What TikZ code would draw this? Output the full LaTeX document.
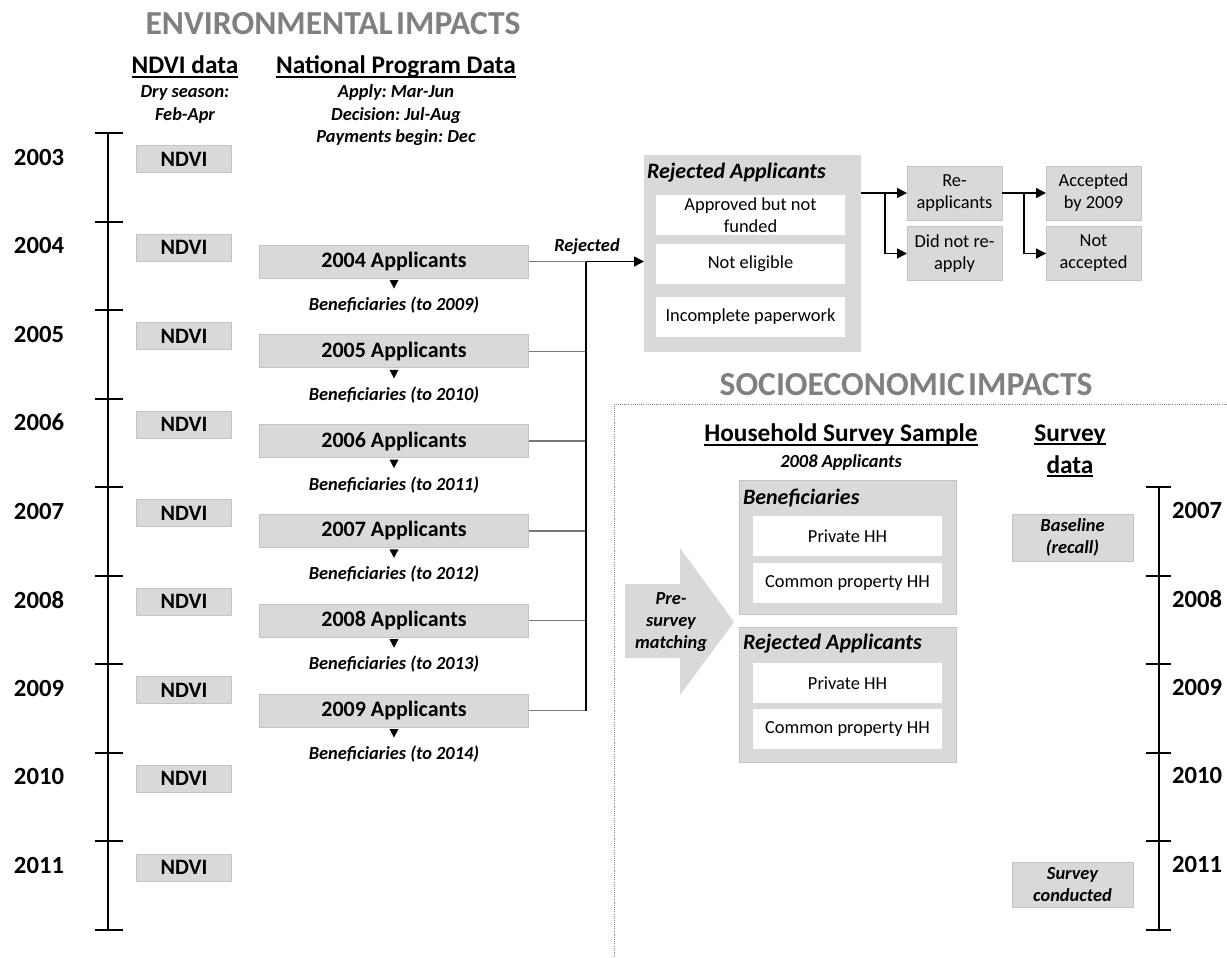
\documentclass[tikz,border=0pt]{standalone}
\usepackage{fontspec}
\setmainfont{Carlito}
\usetikzlibrary{arrows.meta,calc}
\frenchspacing
\definecolor{boxgray}{RGB}{217,217,217}
\definecolor{boxedge}{RGB}{196,196,196}
\definecolor{titlegray}{RGB}{128,128,128}
\definecolor{linegray}{RGB}{120,120,120}
\newcommand\hul[1]{\setbox0=\hbox{#1}\rlap{\rule[-0.15em]{\wd0}{0.075em}}\box0}
\newcommand\fTitle{\fontsize{25.2}{29}\selectfont\bfseries}
\newcommand\fHead{\fontsize{19}{24}\selectfont\bfseries}
\newcommand\fYear{\fontsize{18.5}{22}\selectfont\bfseries}
\newcommand\fBox{\fontsize{16.5}{20}\selectfont\bfseries}
\newcommand\fSub{\fontsize{13.8}{16.9}\selectfont\bfseries\itshape}
\newcommand\fReg{\fontsize{13.8}{16.5}\selectfont}
\begin{document}
\begin{tikzpicture}[x=0.75pt,y=-0.75pt,
  every node/.style={inner sep=0pt,outer sep=0pt},
  gbox/.style={fill=boxgray,draw=boxedge,line width=0.5pt},
  wbox/.style={fill=white},
  title/.style={font=\fTitle,text=titlegray},
  head/.style={font=\fHead,align=center},
  year/.style={font=\fYear},
  ndvi/.style={gbox,font=\fBox,minimum width=71.25pt,minimum height=20.25pt},
  appbox/.style={gbox,font=\fBox,minimum width=201.75pt,minimum height=24.75pt},
  sub/.style={font=\fSub,align=center},
  reg/.style={font=\fReg,align=center},
  inner/.style={wbox,font=\fReg,align=center,minimum width=141.75pt,minimum height=30pt},
  small/.style={gbox,font=\fReg,align=center,minimum width=71.25pt,minimum height=40.5pt},
  tline/.style={line width=1.5pt,black},
  gline/.style={line width=1pt,linegray},
  bline/.style={line width=1pt,black},
  arr/.style={line width=1pt,black,-{Triangle[length=7.5pt,width=7.5pt]}}
]
\useasboundingbox (0,0) rectangle (1227,957);

% ---------- titles and headers ----------
\node[title] (envt) at (333,24) {ENVIRONMENTAL\hspace{0.1em}IMPACTS};
\node[head] (ndvih) at (185,67) {\hul{NDVI data}};
\node[head] (nath) at (396,67) {\hul{National Program Data}};
\node[sub] (drys) at (185,104.5) {Dry season:\\Feb-Apr};
\node[sub] (sched) at (396,115.5) {Apply: Mar-Jun\\Decision: Jul-Aug\\Payments begin: Dec};

% ---------- left timeline ----------
\draw[tline] (108,133) -- (108,930);
\foreach \k in {0,...,9}{
  \pgfmathsetmacro\ty{133+88.55*\k}
  \draw[tline] (95,\ty) -- (123,\ty);
}
\foreach \k in {0,...,8}{
  \pgfmathsetmacro\ty{133+88.55*\k}
  \pgfmathtruncatemacro\yr{2003+\k}
  \node[year] (ly\k) at (39,\ty+24) {\yr};
  \node[ndvi] (nd\k) at (184,\ty+26) {NDVI};
}

% ---------- applicants ----------
\foreach \i in {0,...,5}{
  \pgfmathsetmacro\yy{261.5+89.8*\i}
  \pgfmathtruncatemacro\yr{2004+\i}
  \pgfmathtruncatemacro\yb{2009+\i}
  \node[appbox] (a\i) at (394,\yy) {\yr{} Applicants};
  \fill ($(a\i.south)+(-4.5,2)$) -- ++(9,0) -- ++(-4.5,8.5) -- cycle;
  \node[sub] (b\i) at (394,\yy+43.5) {Beneficiaries (to \yb)};
}

% ---------- rejected applicants box ----------
\node[fill=boxgray,minimum width=162.75pt,minimum height=147.75pt] (rej) at (752.5,253.5) {};
\node[font=\fontsize{16.5}{20}\selectfont\bfseries\itshape,anchor=west] (rejt) at (647,173) {Rejected Applicants};
\node[inner] (appr) at (750.5,215) {Approved but not\\funded};
\node[inner] (nelig) at (750.5,264) {Not eligible};
\node[inner] (incpl) at (750.5,317) {Incomplete paperwork};

\coordinate (bus) at (586,0);
\draw[gline] (a0.east) -- (a0.east -| bus);
\foreach \i in {1,...,5}{
  \draw[gline] (a\i.east) -- (a\i.east -| bus);
}
\draw[bline] (a0.east -| bus) -- (a5.east -| bus);
\draw[arr] (a0.east -| bus) -- (rej.west |- a0.east);
\node[sub] (rejlab) at (587,247) {Rejected};

% ---------- re-applicants ----------
\node[small] (reap) at (954.5,193) {Re-\\applicants};
\node[small] (dnr) at (954.5,253.5) {Did not re-\\apply};
\node[small] (acc) at (1093.5,193) {Accepted\\by 2009};
\node[small] (nacc) at (1093.5,253.5) {Not\\accepted};
\draw[bline] (rej.east |- reap) -- ++(24,0) coordinate (br1);
\draw[arr] (br1) -- (reap);
\draw[arr] (br1) |- (dnr);
\draw[bline] (reap.east) -- ++(22,0) coordinate (br2);
\draw[arr] (br2) -- (acc);
\draw[arr] (br2) |- (nacc);

% ---------- socioeconomic ----------
\node[title] (soct) at (906,385) {SOCIOECONOMIC\hspace{0.1em}IMPACTS};
\draw[densely dotted,line width=0.6pt,gray] (614,957) -- (614,404) -- (1227,404);
\node[head] (hhs) at (841,435) {\hul{Household Survey Sample}};
\node[sub] (a08) at (841,462) {2008 Applicants};

\node[gbox,minimum width=162.75pt,minimum height=100.5pt] (benb) at (847.5,547) {};
\node[font=\fontsize{16.5}{20}\selectfont\bfseries\itshape,anchor=west] (bent) at (743,498) {Beneficiaries};
\node[inner] (bpriv) at (847.5,536) {Private HH};
\node[inner] (bcomm) at (847.5,583) {Common property HH};

\node[gbox,minimum width=162.75pt,minimum height=101.25pt] (rjb) at (847.5,694.5) {};
\node[font=\fontsize{16.5}{20}\selectfont\bfseries\itshape,anchor=west] (rjt) at (743,644) {Rejected Applicants};
\node[inner] (rpriv) at (847.5,683) {Private HH};
\node[inner] (rcomm) at (847.5,729) {Common property HH};

\fill[boxgray] (625,584) -- (680,584) -- (680,548) -- (734,622) -- (680,695) -- (680,658) -- (625,658) -- cycle;
\node[sub,font=\fontsize{13.8}{16.5}\selectfont\bfseries\itshape] (match) at (671,622) {Pre-\\survey\\matching};

% ---------- right timeline ----------
\node[head,font=\fontsize{19}{24}\selectfont\bfseries] (svh) at (1070,451) {\hul{Survey}\\\hul{data}};
\draw[tline] (1159,487) -- (1159,930);
\foreach \k in {0,...,5}{
  \pgfmathsetmacro\ty{487+88.6*\k}
  \draw[tline] (1146,\ty) -- (1171,\ty);
}
\foreach \k in {0,...,4}{
  \pgfmathsetmacro\ty{487+88.6*\k}
  \pgfmathtruncatemacro\yr{2007+\k}
  \node[year] (ry\k) at (1197,\ty+23) {\yr};
}
\node[gbox,sub,minimum width=90.75pt,minimum height=35.25pt] (base) at (1072.5,537.5) {Baseline\\(recall)};
\node[gbox,sub,minimum width=90.75pt,minimum height=33.75pt] (cond) at (1072.5,884.5) {Survey\\conducted};
\end{tikzpicture}
\end{document}
